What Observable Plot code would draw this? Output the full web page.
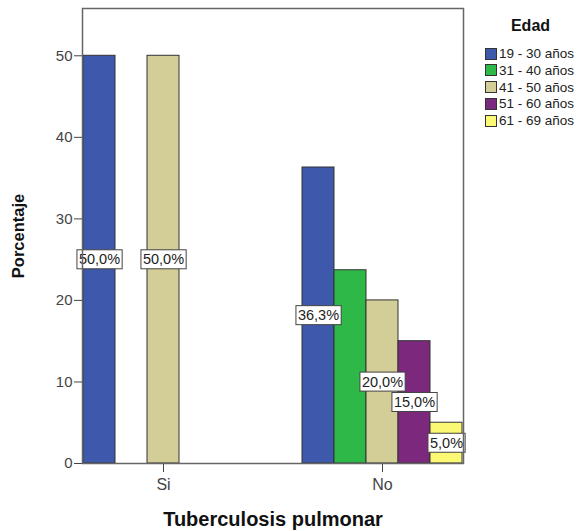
<!DOCTYPE html>
<html><head><meta charset="utf-8">
<script src="https://cdn.jsdelivr.net/npm/d3@7"></script>
<script src="https://cdn.jsdelivr.net/npm/@observablehq/plot@0.6"></script>
<style>
body{margin:0;background:#fff;font-family:"Liberation Sans",Arial,sans-serif}
#wrap{position:relative;width:578px;height:531px;overflow:hidden}
#legend{position:absolute;left:483px;top:0;width:95px;color:#222}
#legend .title{font-weight:bold;font-size:16px;text-align:center;margin-top:16px;height:20px;line-height:20px;color:#111}
#legend .row{position:absolute;left:2px;height:13px;display:flex;align-items:center;font-size:13.5px;white-space:nowrap}
#legend .sw{width:12px;height:12px;border:1px solid #333;box-sizing:border-box;margin-right:2px;flex:none}
g[aria-label="fx-axis label"] text{font-weight:bold;font-size:20px;fill:#111}
g[aria-label="y-axis label"] text{font-weight:bold;font-size:16.5px;fill:#111}
g[aria-label="fx-axis tick label"] text{font-size:16px}
g[aria-label="y-axis tick label"] text{font-size:15px}
</style></head><body><div id="wrap"></div>
<script>
const tuberculosis = ["Si", "No"];
const edades = ["19 - 30 años", "31 - 40 años", "41 - 50 años", "51 - 60 años", "61 - 69 años"];
const colores = ["#3E58AC", "#2EB848", "#D3CE97", "#7C287D", "#FBF873"];
const porcentajeSi = [50.0, null, 50.0, null, null];
const porcentajeNo = [36.3, 23.7, 20.0, 15.0, 5.0];
const etiquetaSi = [true, false, true, false, false];
const etiquetaNo = [true, false, true, true, true];
const yTicks = [0, 10, 20, 30, 40, 50];

const datos = [];
[[ "Si", porcentajeSi, etiquetaSi ], [ "No", porcentajeNo, etiquetaNo ]].forEach(([tb, vals, labs]) => {
  vals.forEach((v, i) => { if (v != null) datos.push({tb, edad: edades[i], valor: v, etiqueta: labs[i]}); });
});
const fmt = v => v.toFixed(1).replace(".", ",") + "%";

const plot = Plot.plot({
  width: 578, height: 531,
  marginLeft: 62, marginRight: 95, marginTop: 8, marginBottom: 68,
  style: {fontFamily: '"Liberation Sans", Arial, sans-serif', fontSize: "14px", color: "#444", background: "white"},
  fx: {domain: tuberculosis, paddingInner: 0.26, paddingOuter: 0.09, axis: "bottom",
       label: "Tuberculosis pulmonar", labelAnchor: "center", labelOffset: 62, tickSize: 9, tickPadding: 6},
  x: {domain: edades, axis: null, padding: 0},
  y: {domain: [0, 55.8], ticks: yTicks, tickSize: 8, tickPadding: 2, label: "Porcentaje",
      labelAnchor: "center", labelOffset: 70, labelArrow: "none"},
  color: {domain: edades, range: colores},
  marks: [
    Plot.barY(datos, {fx: "tb", x: "edad", y: "valor", fill: "edad", stroke: "#333", strokeWidth: 1}),
    Plot.text(datos.filter(d => d.etiqueta), {fx: "tb", x: "edad", y: d => d.valor / 2, text: d => fmt(d.valor),
      fill: "#222", fontSize: 14.5}),
    Plot.frame({facet: "super", stroke: "#666", strokeWidth: 1.5})
  ]
});
const wrap = document.getElementById("wrap");
wrap.appendChild(plot);

// label boxes
plot.querySelectorAll('g[aria-label="text"] text').forEach(t => {
  const b = t.getBBox();
  const r = document.createElementNS("http://www.w3.org/2000/svg", "rect");
  r.setAttribute("x", b.x - 2); r.setAttribute("y", b.y - 1.5);
  r.setAttribute("width", b.width + 4); r.setAttribute("height", b.height + 3);
  r.setAttribute("fill", "white"); r.setAttribute("stroke", "#444"); r.setAttribute("stroke-width", "1");
  const tr = t.getAttribute("transform");
  if (tr) r.setAttribute("transform", tr);
  t.parentNode.insertBefore(r, t);
});

// legend
const leg = document.createElement("div");
leg.id = "legend";
leg.innerHTML = '<div class="title">Edad</div>';
edades.forEach((e, i) => {
  const row = document.createElement("div");
  row.className = "row";
  row.style.top = (47 + i * 16.8) + "px";
  row.innerHTML = `<span class="sw" style="background:${colores[i]}"></span><span>${e}</span>`;
  leg.appendChild(row);
});
wrap.appendChild(leg);
</script></body></html>
